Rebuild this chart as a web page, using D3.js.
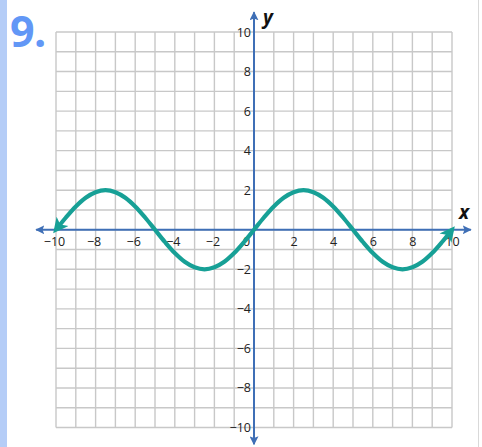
<!DOCTYPE html>
<html><head><meta charset="utf-8">
<script src="https://cdn.jsdelivr.net/npm/d3@7"></script>
<style>
html,body{margin:0;padding:0;background:#fff;}
svg{display:block;}
</style></head>
<body>
<svg id="c" width="482" height="447"></svg>
<script>
// Data
const problemLabel = "9.";
const xTickLabels = [-10,-8,-6,-4,-2,0,2,4,6,8,10];
const yTickLabels = [10,8,6,4,2,-2,-4,-6,-8,-10];
const curveX = [-10,-9.5,-9,-8.5,-8,-7.5,-7,-6.5,-6,-5.5,-5,-4.5,-4,-3.5,-3,-2.5,-2,-1.5,-1,-0.5,0,0.5,1,1.5,2,2.5,3,3.5,4,4.5,5,5.5,6,6.5,7,7.5,8,8.5,9,9.5,10];
const curveY = [0,0.62,1.18,1.62,1.9,2,1.9,1.62,1.18,0.62,0,-0.62,-1.18,-1.62,-1.9,-2,-1.9,-1.62,-1.18,-0.62,0,0.62,1.18,1.62,1.9,2,1.9,1.62,1.18,0.62,0,-0.62,-1.18,-1.62,-1.9,-2,-1.9,-1.62,-1.18,-0.62,0];

const svg = d3.select("#c");
const x = d3.scaleLinear().domain([-10,10]).range([56,452]);
const y = d3.scaleLinear().domain([-10,10]).range([427.5,32]);

// left accent bar and right border
svg.append("rect").attr("x",0).attr("y",0).attr("width",7).attr("height",447).attr("fill","#b5cdf7");
svg.append("line").attr("x1",478.5).attr("x2",478.5).attr("y1",0).attr("y2",447).attr("stroke","#d9d9d9").attr("stroke-width",1);

svg.append("text").attr("x",10).attr("y",46.5).text(problemLabel)
  .attr("font-family","'Open Sans', sans-serif").attr("font-weight","bold").attr("font-size",43)
  .attr("letter-spacing",-0.5).attr("fill","#6297f6");

// grid
const gridVals = d3.range(-10,11,1);
const grid = svg.append("g").attr("stroke","#c8c8c8").attr("stroke-width",1.4);
grid.selectAll("line.v").data(gridVals).join("line").attr("class","v")
  .attr("x1",d=>x(d)).attr("x2",d=>x(d)).attr("y1",y(10)).attr("y2",y(-10));
grid.selectAll("line.h").data(gridVals).join("line").attr("class","h")
  .attr("y1",d=>y(d)).attr("y2",d=>y(d)).attr("x1",x(-10)).attr("x2",x(10));

// arrow markers
const defs = svg.append("defs");
defs.append("marker").attr("id","axArrow").attr("viewBox","0 0 10 10").attr("refX",9).attr("refY",5)
  .attr("markerWidth",4.5).attr("markerHeight",4.5).attr("markerUnits","strokeWidth").attr("orient","auto-start-reverse")
  .append("path").attr("d","M0,0 L10,5 L0,10 L2,5 Z").attr("fill","#3f6fb6");
defs.append("marker").attr("id","cvArrow").attr("viewBox","0 0 10 10").attr("refX",7).attr("refY",5)
  .attr("markerWidth",4).attr("markerHeight",3.6).attr("markerUnits","strokeWidth").attr("orient","auto-start-reverse")
  .append("path").attr("d","M0,0 L10,5 L0,10 L2.5,5 Z").attr("fill","#17a096");

// axes lines
const axCol = "#3f6fb6";
svg.append("line").attr("x1",x(-11)).attr("x2",x(10.95)).attr("y1",y(0)).attr("y2",y(0))
  .attr("stroke",axCol).attr("stroke-width",2).attr("marker-start","url(#axArrow)").attr("marker-end","url(#axArrow)");
svg.append("line").attr("x1",x(0)).attr("x2",x(0)).attr("y1",y(-10.85)).attr("y2",y(11))
  .attr("stroke",axCol).attr("stroke-width",2).attr("marker-start","url(#axArrow)").attr("marker-end","url(#axArrow)");

// tick labels via d3 axes
const fontF = "'Open Sans', 'Lato', sans-serif";
const fmt = d => (d<0 ? "\u2212"+Math.abs(d) : String(d));
const xAxis = d3.axisBottom(x).tickValues(xTickLabels).tickSize(0).tickPadding(0).tickFormat(fmt);
const gx = svg.append("g").attr("transform",`translate(0,${y(0)+16})`).call(xAxis);
gx.select(".domain").remove();
gx.selectAll("text").attr("font-family",fontF).attr("font-size",12.5).attr("fill","#222").attr("dy",0)
  .attr("dx",d=>d===0? -8 : (d<0? -2 : 0));
const yAxis = d3.axisLeft(y).tickValues(yTickLabels).tickSize(0).tickPadding(0).tickFormat(fmt);
const gy = svg.append("g").attr("transform",`translate(${x(0)-3},0)`).call(yAxis);
gy.select(".domain").remove();
gy.selectAll("text").attr("font-family",fontF).attr("font-size",12.5).attr("fill","#222");

// axis names
svg.append("text").attr("x",263).attr("y",24).text("y")
  .attr("font-family","'Open Sans', sans-serif").attr("font-weight","bold").attr("font-style","italic").attr("font-size",19).attr("fill","#111");
svg.append("text").attr("x",459).attr("y",219).text("x")
  .attr("font-family","'Open Sans', sans-serif").attr("font-weight","bold").attr("font-style","italic").attr("font-size",19).attr("fill","#111");

// curve
const pts = curveX.map((v,i)=>[v,curveY[i]]);
const line = d3.line().x(d=>x(d[0])).y(d=>y(d[1])).curve(d3.curveCatmullRom);
svg.append("path").datum(pts).attr("d",line).attr("fill","none")
  .attr("stroke","#17a096").attr("stroke-width",4.2).attr("stroke-linecap","butt")
  .attr("marker-start","url(#cvArrow)").attr("marker-end","url(#cvArrow)");
</script>
</body></html>
